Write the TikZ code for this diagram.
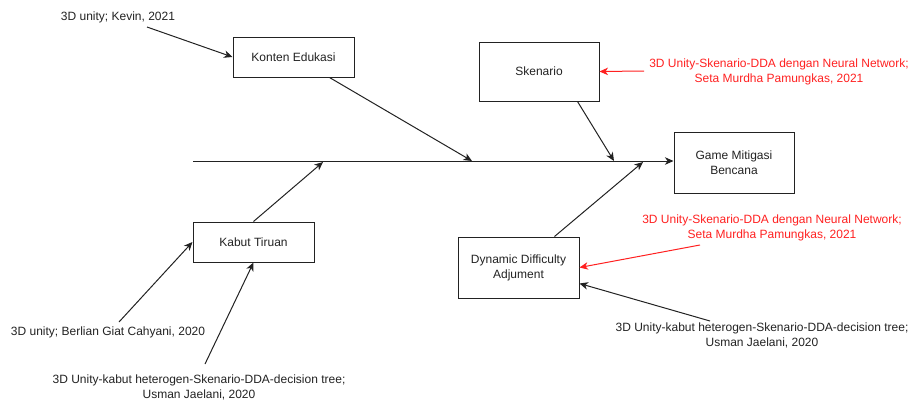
\documentclass[tikz,border=0pt]{standalone}
\usepackage{fontspec}
\setmainfont{Liberation Sans}
\usetikzlibrary{arrows.meta,calc}
\definecolor{ink}{HTML}{222222}
\definecolor{note}{HTML}{FF2020}
\tikzset{
  box/.style={draw=ink,line width=1pt,inner sep=0pt,align=center,text=ink,
    font=\fontsize{12}{15}\selectfont},
  cite/.style={inner sep=0pt,align=center,text=ink,font=\fontsize{12}{15}\selectfont},
  redcite/.style={cite,text=note},
  link/.style={draw=ink,line width=1pt,-{Stealth[length=8.5pt,width=7.5pt,inset=2.5pt]}},
  redlink/.style={link,draw=note,-{Stealth[length=8.5pt,width=7.5pt,inset=2.5pt,fill=note]}},
  bone/.style={draw=ink,line width=1pt}
}
\begin{document}
\begin{tikzpicture}[x=1pt,y=-1pt]
\useasboundingbox (0,0) rectangle (911,400);

% boxes
\node[box,minimum width=121pt,minimum height=40pt] (konten) at (293.5,57) {Konten Edukasi};
\node[box,minimum width=120pt,minimum height=59pt] (skenario) at (539,71.5) {Skenario};
\node[box,minimum width=120pt,minimum height=61pt] (game) at (734,162.5) {Game Mitigasi\\Bencana};
\node[box,minimum width=121pt,minimum height=40pt] (kabut) at (253.5,242) {Kabut Tiruan};
\node[box,minimum width=121pt,minimum height=61pt] (dda) at (518.5,267.5) {Dynamic Difficulty\\Adjument};

% spine and its branch points
\coordinate (tail) at (193,161);
\coordinate (j1) at (472,161);
\coordinate (j2) at (614,161);
\coordinate (j3) at (323,162);
\coordinate (j4) at (643,162);
\draw[link] (tail) -- (game.west |- tail);

% branches into the spine
\draw[link] ($(konten.south east)+(-25,0)$) -- (j1);
\draw[link] ($(skenario.south east)+(-22,0)$) -- (j2);
\draw[link] (kabut.north) -- (j3);
\draw[link] ($(dda.north)+(36,0)$) -- (j4);

% references
\node[cite] (kevin) at (118,17) {3D unity; Kevin, 2021};
\coordinate (kevinA) at (147,27);
\draw[link] (kevinA) -- (konten.west);

\node[redcite] (seta1) at (779,72) {3D Unity-Skenario-DDA dengan Neural Network;\\Seta Murdha Pamungkas, 2021};
\coordinate (seta1A) at (644,71);
\draw[redlink] (seta1A) -- (skenario.east);

\node[cite] (berlian) at (108,332) {3D unity; Berlian Giat Cahyani, 2020};
\coordinate (berlianA) at (119,322);
\draw[link] (berlianA) -- (kabut.west);

\node[cite] (usman1) at (199,387) {3D Unity-kabut heterogen-Skenario-DDA-decision tree;\\Usman Jaelani, 2020};
\coordinate (usman1A) at (205,364);
\draw[link] (usman1A) -- (kabut.south);

\node[redcite] (seta2) at (772,228) {3D Unity-Skenario-DDA dengan Neural Network;\\Seta Murdha Pamungkas, 2021};
\coordinate (seta2A) at (700,245);
\draw[redlink] (seta2A) -- (dda.east);

\node[cite] (usman2) at (762,335) {3D Unity-kabut heterogen-Skenario-DDA-decision tree;\\Usman Jaelani, 2020};
\coordinate (usman2A) at (710,321);
\draw[link] (usman2A) -- ($(dda.south east)+(0,-15)$);
\end{tikzpicture}
\end{document}
